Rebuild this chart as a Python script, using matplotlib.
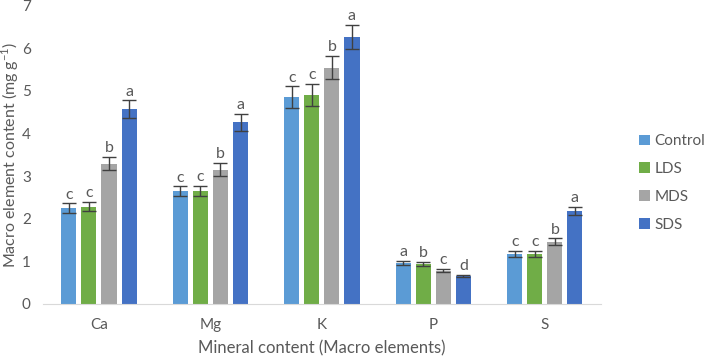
import numpy as np
import matplotlib
matplotlib.use("Agg")
import matplotlib.pyplot as plt

plt.rcParams['font.family'] = ['Lato', 'DejaVu Sans']

elements = ['Ca', 'Mg', 'K', 'P', 'S']
treatments = ['Control', 'LDS', 'MDS', 'SDS']
colors = ['#5B9BD5', '#70AD47', '#A5A5A5', '#4472C4']

control = [2.25, 2.64, 4.85, 0.96, 1.17]
lds = [2.28, 2.65, 4.90, 0.93, 1.17]
mds = [3.29, 3.15, 5.54, 0.78, 1.46]
sds = [4.57, 4.26, 6.26, 0.66, 2.18]

control_err = [0.11, 0.12, 0.25, 0.05, 0.07]
lds_err = [0.11, 0.12, 0.26, 0.05, 0.07]
mds_err = [0.16, 0.16, 0.27, 0.04, 0.08]
sds_err = [0.20, 0.20, 0.29, 0.03, 0.10]

control_let = ['c', 'c', 'c', 'a', 'c']
lds_let = ['c', 'c', 'c', 'b', 'c']
mds_let = ['b', 'b', 'b', 'c', 'b']
sds_let = ['a', 'a', 'a', 'd', 'a']

values = [control, lds, mds, sds]
errors = [control_err, lds_err, mds_err, sds_err]
letters = [control_let, lds_let, mds_let, sds_let]

txt = '#595959'
fig = plt.figure(figsize=(7.09, 3.57), dpi=100)
ax = fig.add_axes([0.061, 0.1485, 0.786, 0.8365])

x = np.arange(len(elements))
w = 0.135
step = 0.18
for i in range(4):
    pos = x + (i - 1.5) * step
    ax.bar(pos, values[i], w, color=colors[i], label=treatments[i], zorder=2)
    ax.errorbar(pos, values[i], yerr=errors[i], fmt='none', ecolor='#404040',
                elinewidth=1, capsize=5, capthick=1, zorder=3)
    for p, v, e, l in zip(pos, values[i], errors[i], letters[i]):
        ax.text(p, v + e + 0.04, l, ha='center', va='bottom', fontsize=11.5, color=txt)

ax.set_xlim(-0.5, 4.5)
ax.set_ylim(0, 7)
ax.set_xticks(x)
ax.set_xticklabels(elements)
ax.set_yticks(range(8))
ax.tick_params(axis='both', length=0, labelsize=11, colors=txt)
ax.tick_params(axis='x', pad=10)
ax.tick_params(axis='y', pad=9)
for s in ['top', 'right', 'left']:
    ax.spines[s].set_visible(False)
ax.spines['bottom'].set_color('#D9D9D9')

ax.set_xlabel('Mineral content (Macro elements)', fontsize=12, color=txt, labelpad=6)
ax.set_ylabel(r'Macro element content (mg g$^{\mathregular{-1}}$)', fontsize=11.5, color=txt,
              va='center')
ax.yaxis.set_label_coords(-0.06, 0.5)

ax.legend(loc='center left', bbox_to_anchor=(1.045, 0.405), frameon=False,
          handlelength=0.7, handleheight=0.7, handletextpad=0.3,
          labelspacing=0.9, fontsize=11, labelcolor=txt)

fig.savefig('out.png', dpi=100)
